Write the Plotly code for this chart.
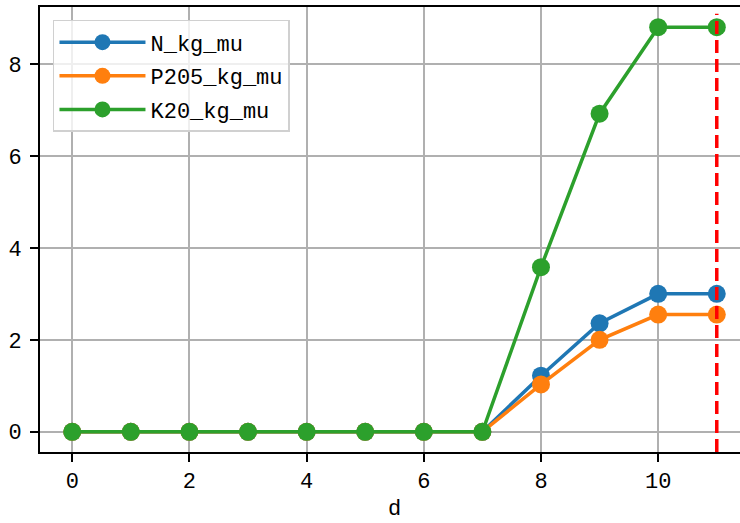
import plotly.graph_objects as go

d = [0, 1, 2, 3, 4, 5, 6, 7, 8, 9, 10, 11]
N_kg_mu = [0, 0, 0, 0, 0, 0, 0, 0, 1.22, 2.36, 3.0, 3.0]
P205_kg_mu = [0, 0, 0, 0, 0, 0, 0, 0, 1.03, 2.0, 2.55, 2.55]
K20_kg_mu = [0, 0, 0, 0, 0, 0, 0, 0, 3.58, 6.92, 8.8, 8.8]
series_names = ["N_kg_mu", "P205_kg_mu", "K20_kg_mu"]
vline_d = 11
x_ticks = [0, 2, 4, 6, 8, 10]
y_ticks = [0, 2, 4, 6, 8]

colors = ["#1f77b4", "#ff7f0e", "#2ca02c"]
FONT = "Liberation Mono, DejaVu Sans Mono, monospace"

fig = go.Figure()
for name, vals, c in zip(series_names, [N_kg_mu, P205_kg_mu, K20_kg_mu], colors):
    fig.add_trace(go.Scatter(
        x=d, y=vals, name=name, mode="lines+markers", legendgroup=name,
        line=dict(color=c, width=3.5),
        marker=dict(color=c, size=18),
    ))

fig.add_shape(type="line", x0=vline_d, x1=vline_d, xref="x", y0=0, y1=0.985, yref="paper",
              line=dict(color="#ff0000", width=3.5, dash="13px,6px"))

fig.add_annotation(text="d", x=5.5, xref="x", y=-0.13, yref="paper",
                   showarrow=False, yanchor="middle",
                   font=dict(size=22, color="black", family=FONT))

fig.update_layout(
    width=749, height=523,
    margin=dict(l=40, r=0, t=7, b=71, autoexpand=False),
    plot_bgcolor="white", paper_bgcolor="white",
    font=dict(family=FONT, size=22, color="black"),
    showlegend=True,
    legend=dict(
        x=0.0183, y=0.971, xanchor="left", yanchor="top",
        bgcolor="rgba(255,255,255,0.8)", bordercolor="#d0d0d0", borderwidth=1.5,
        font=dict(size=22, family=FONT), itemwidth=86, tracegroupgap=2,
    ),
    xaxis=dict(
        range=[-0.55, 11.55], tickvals=x_ticks, ticktext=[str(v) for v in x_ticks],
        showgrid=True, gridcolor="#b0b0b0", gridwidth=1.5,
        showline=True, linecolor="black", linewidth=1.8, mirror=True,
        ticks="outside", ticklen=8, tickwidth=1.5, tickcolor="black",
        zeroline=False, automargin=False,
    ),
    yaxis=dict(
        range=[-0.44, 9.24], tickvals=y_ticks, ticktext=[str(v) for v in y_ticks],
        showgrid=True, gridcolor="#b0b0b0", gridwidth=1.5,
        showline=True, linecolor="black", linewidth=1.8, mirror=False,
        ticks="outside", ticklen=8, tickwidth=1.5, tickcolor="black",
        zeroline=False, ticklabelstandoff=4, automargin=False,
    ),
)

fig.write_html(
    "out.html",
    config={"responsive": False, "displayModeBar": False},
    post_script="document.body.style.margin='0';document.body.style.overflow='hidden';",
)
